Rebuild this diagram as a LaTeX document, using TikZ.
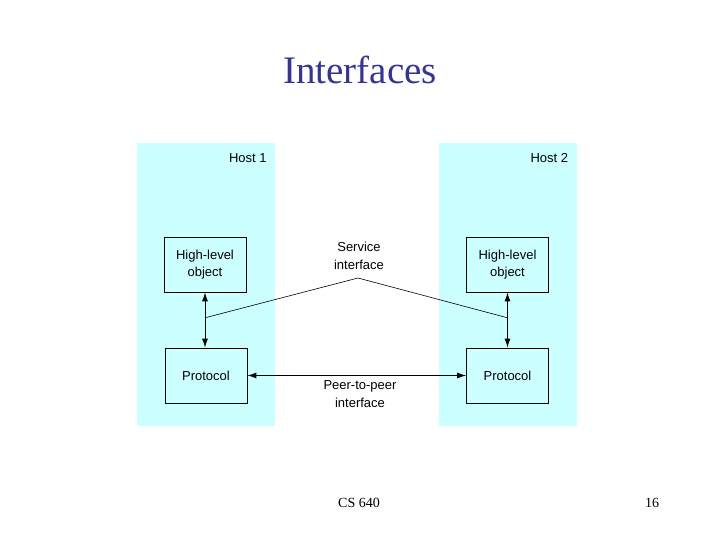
\documentclass[tikz,border=0pt]{standalone}
\usepackage{fontspec}
\setmainfont{Liberation Serif}
\setsansfont{Liberation Sans}
\usetikzlibrary{arrows.meta, positioning, calc}
\definecolor{hostcyan}{HTML}{CCFFFF}
\definecolor{titleblue}{HTML}{333399}

\begin{document}
\begin{tikzpicture}[x=1pt, y=-1pt,
  hostpanel/.style={rectangle, fill=hostcyan, minimum width=138pt, minimum height=283pt, inner sep=0pt},
  block/.style={rectangle, draw=black, line width=0.8pt, fill=hostcyan, minimum width=82pt, minimum height=55pt,
    text centered, align=center, font=\sffamily\fontsize{13}{17.5}\selectfont},
  tag/.style={align=center, font=\sffamily\fontsize{13}{17.5}\selectfont},
  arrow/.style={{Latex[length=9pt,width=6pt]}-{Latex[length=9pt,width=6pt]}, line width=0.9pt},
  link/.style={line width=0.6pt}
]
\useasboundingbox (0,0) rectangle (720,540);

% title
\node (title) at (360,70) [text=titleblue, font=\fontsize{39}{45}\selectfont] {Interfaces};

% hosts
\node (host1) [hostpanel] at (206,284.5) {};
\node (host2) [hostpanel] at (507.5,284.5) {};
\node (h1lbl) [tag, anchor=east] at ($(host1.north east)+(-5,15)$) {Host 1};
\node (h2lbl) [tag, anchor=east] at ($(host2.north east)+(-5,15)$) {Host 2};

% layers
\node (hloA) [block] at (205,264.5) {High-level\\object};
\node (protoA) [block] at (206,375.5) {Protocol};
\node (hloB) [block] at (507.5,264.5) {High-level\\object};
\node (protoB) [block] at (507.5,375.5) {Protocol};

\draw [arrow] (hloA.south) -- (hloA.south |- protoA.north);
\draw [arrow] (hloB.south) -- (hloB.south |- protoB.north);
\draw [arrow] (protoA.east) -- (protoB.west);

% service interface
\coordinate (svcA) at ($(hloA.south)!0.46!(hloA.south |- protoA.north)$);
\coordinate (svcB) at ($(hloB.south)!0.46!(hloB.south |- protoB.north)$);
\coordinate (apex) at (358,278);
\draw [link] (svcA) -- (apex) -- (svcB);

\node (svc) [tag] at (359,256) {Service\\interface};
\node (peer) [tag] at (360,394) {Peer-to-peer\\interface};

% footer
\node (course) at (359,503) [font=\fontsize{14}{16}\selectfont] {CS 640};
\node (page) at (652,503) [font=\fontsize{14}{16}\selectfont] {16};

\end{tikzpicture}
\end{document}
